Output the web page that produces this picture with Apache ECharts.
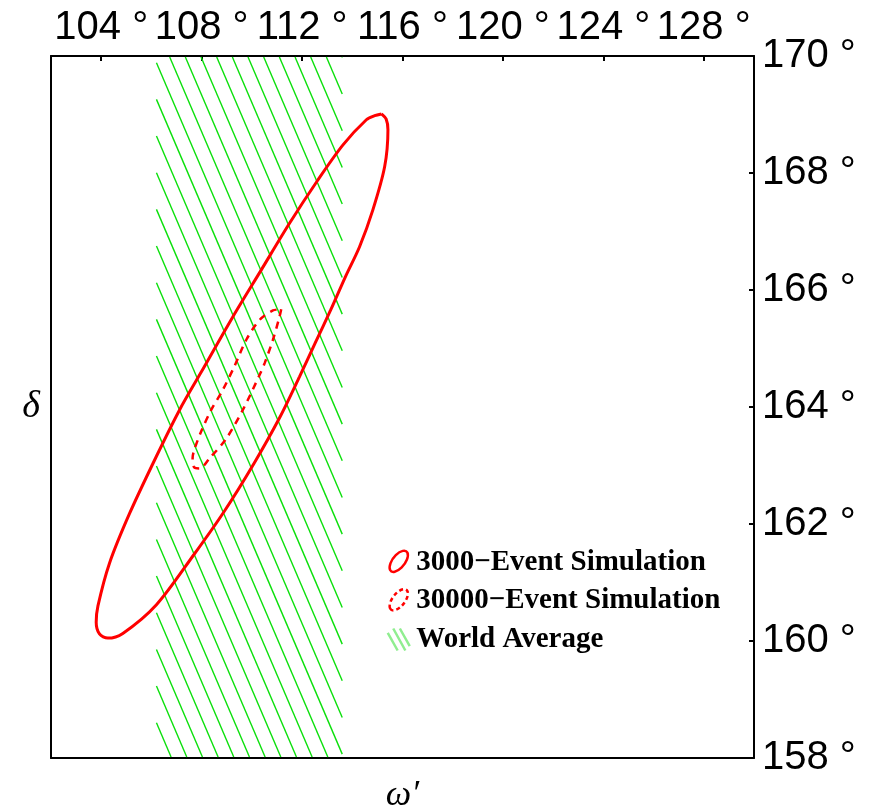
<!DOCTYPE html>
<html>
<head>
<meta charset="utf-8">
<title>omega delta</title>
<script src="https://cdn.jsdelivr.net/npm/echarts@6/dist/echarts.min.js"></script>
<style>
  html, body { margin: 0; padding: 0; background: #fff; }
</style>
</head>
<body>
<div id="main" style="width: 884px;height:811px;"></div>
<script>
// axis ranges and ticks
var omegaRange = [102, 130];
var deltaRange = [158, 170];
var omegaTicks = [104, 108, 112, 116, 120, 124, 128];

// 3000-event contour
var omega3000 = [115.16, 115.35, 115.42, 115.29, 114.82, 114.29, 113.73, 113.14, 112.52, 111.90,
                 111.12, 110.09, 108.89, 107.68, 106.20, 104.86, 104.26, 103.93, 103.80, 103.87,
                 104.33, 105.13, 106.19, 107.12, 107.96, 109.24, 110.37, 111.50, 112.63, 113.63,
                 114.56, 114.89, 115.16];
var delta3000 = [169.01, 168.92, 168.74, 168.11, 167.37, 166.74, 166.23, 165.66, 165.09, 164.52,
                 163.83, 163.04, 162.21, 161.47, 160.62, 160.13, 160.05, 160.12, 160.32, 160.60,
                 161.33, 162.18, 163.15, 163.95, 164.58, 165.54, 166.34, 167.14, 167.88, 168.48,
                 168.91, 168.98, 169.01];

// 30000-event contour
var omega30000 = [111.17, 111.10, 110.84, 110.51, 110.31, 109.64, 108.98, 108.31, 107.92, 107.70,
                  107.64, 107.70, 107.98, 108.38, 108.84, 109.31, 109.78, 110.31, 110.84, 111.17];
var delta30000 = [165.67, 165.54, 165.15, 164.75, 164.55, 163.95, 163.46, 163.12, 162.95, 162.97,
                  163.13, 163.26, 163.58, 163.95, 164.29, 164.70, 165.15, 165.49, 165.65, 165.67];

// world average band in omega'
var worldAvg = [106.2, 113.6];

var names = ['3000\u2212Event Simulation', '30000\u2212Event Simulation', 'World Average'];

function zip(a, b) {
    var res = [];
    for (var i = 0; i < a.length; i++) res.push([a[i], b[i]]);
    return res;
}

// hatch look (pixels)
var hatchGap = 36.67, hatchSlope = 2.34, hatchPhase = 5.7;
var hatchColor = '#0be00b';

var myChart = echarts.init(document.getElementById('main'));

var degLabel = function (v) { return v + ' \u00b0'; };
var black = '#000';
var ellipseIcon = 'path://M3.51,19.49 A12,6,-52,1,1,20.49,2.51 A12,6,-52,1,1,3.51,19.49 Z';

option = {
    animation: false,
    grid: { left: 51, top: 56, width: 703, height: 702, outerBoundsMode: 'none', containLabel: false },
    legend: {
        orient: 'vertical',
        left: 385,
        top: 548,
        padding: 0,
        itemWidth: 25,
        itemHeight: 22,
        itemGap: 9.5,
        textStyle: {
            fontFamily: 'Liberation Serif',
            fontWeight: 'bold',
            fontSize: 29,
            color: black
        },
        data: [
            {
                name: names[0],
                icon: ellipseIcon,
                itemStyle: { color: 'rgba(0,0,0,0)', borderColor: '#ff0000', borderWidth: 2.5 }
            },
            {
                name: names[1],
                icon: ellipseIcon,
                itemStyle: { color: 'rgba(0,0,0,0)', borderColor: '#ff0000', borderWidth: 2.5, borderType: [4, 3] }
            },
            {
                name: names[2],
                icon: 'path://M0,4 L9,20 M5,0 L16,20 M11,0 L20,16',
                itemStyle: { color: 'rgba(0,0,0,0)', borderColor: '#90ee90', borderWidth: 2.5 }
            }
        ]
    },
    xAxis: [
        {
            type: 'value',
            position: 'top',
            min: omegaRange[0],
            max: omegaRange[1],
            splitLine: { show: false },
            axisLine: { lineStyle: { color: black, width: 2 } },
            axisTick: { inside: true, length: 5, customValues: omegaTicks, lineStyle: { color: black, width: 2 } },
            axisLabel: {
                customValues: omegaTicks,
                formatter: degLabel,
                margin: 8,
                fontFamily: 'Liberation Sans',
                fontSize: 40,
                color: black
            }
        },
        {
            type: 'value',
            position: 'bottom',
            min: omegaRange[0],
            max: omegaRange[1],
            splitLine: { show: false },
            axisLine: { lineStyle: { color: black, width: 2 } },
            axisTick: { show: false },
            axisLabel: { show: false },
            name: '\u03c9\u2032',
            nameLocation: 'middle',
            nameGap: 20,
            nameTextStyle: { fontFamily: 'Liberation Serif', fontStyle: 'italic', fontSize: 36, color: black }
        }
    ],
    yAxis: [
        {
            type: 'value',
            position: 'right',
            min: deltaRange[0],
            max: deltaRange[1],
            interval: 2,
            splitLine: { show: false },
            axisLine: { lineStyle: { color: black, width: 2 } },
            axisTick: { inside: true, length: 5, lineStyle: { color: black, width: 2 } },
            axisLabel: {
                formatter: degLabel,
                margin: 8,
                fontFamily: 'Liberation Sans',
                fontSize: 40,
                color: black
            }
        },
        {
            type: 'value',
            position: 'left',
            min: deltaRange[0],
            max: deltaRange[1],
            splitLine: { show: false },
            axisLine: { lineStyle: { color: black, width: 2 } },
            axisTick: { show: false },
            axisLabel: { show: false },
            name: '\u03b4',
            nameLocation: 'middle',
            nameRotate: 0,
            nameGap: 11,
            nameTextStyle: { fontFamily: 'Liberation Serif', fontStyle: 'italic', fontSize: 38, color: black }
        }
    ],
    series: [
        {
            name: names[2],
            type: 'custom',
            xAxisIndex: 0,
            yAxisIndex: 0,
            encode: { x: [0, 1] },
            itemStyle: { color: hatchColor },
            data: [worldAvg],
            renderItem: function (params, api) {
                var pTL = api.coord([api.value(0), deltaRange[1]]);
                var pBR = api.coord([api.value(1), deltaRange[0]]);
                var xL = pTL[0], yT = pTL[1] + 1, xR = pBR[0], yB = pBR[1] - 1;
                var w = xR - xL, h = yB - yT;
                var kids = [];
                var b0 = hatchPhase - Math.ceil(hatchSlope * w / hatchGap) * hatchGap;
                for (var b = b0; b < h; b += hatchGap) {
                    var xa = Math.max(xL, xL - b / hatchSlope);
                    var xb = Math.min(xR, xL + (h - b) / hatchSlope);
                    if (xb <= xa) continue;
                    kids.push({
                        type: 'line',
                        shape: {
                            x1: xa, y1: yT + b + hatchSlope * (xa - xL),
                            x2: xb, y2: yT + b + hatchSlope * (xb - xL)
                        },
                        style: { stroke: hatchColor, lineWidth: 1.4 }
                    });
                }
                return { type: 'group', children: kids };
            }
        },
        {
            name: names[0],
            type: 'line',
            xAxisIndex: 0,
            yAxisIndex: 0,
            data: zip(omega3000, delta3000),
            smooth: 0.3,
            showSymbol: false,
            itemStyle: { color: '#ff0000' },
            lineStyle: { color: '#ff0000', width: 3 }
        },
        {
            name: names[1],
            type: 'line',
            xAxisIndex: 0,
            yAxisIndex: 0,
            data: zip(omega30000, delta30000),
            smooth: 0.3,
            showSymbol: false,
            itemStyle: { color: '#ff0000' },
            lineStyle: { color: '#ff0000', width: 2.5, type: [7, 6] }
        }
    ]
};
myChart.setOption(option);
</script>
</body>
</html>
